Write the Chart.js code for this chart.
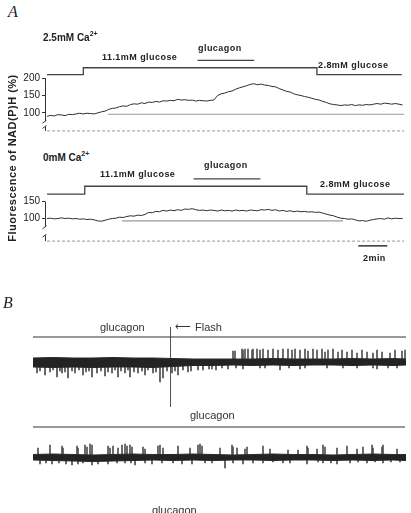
<!DOCTYPE html>
<html>
<head>
<meta charset="utf-8">
<script src="https://cdn.jsdelivr.net/npm/chart.js@4.4.1/dist/chart.umd.min.js"></script>
<style>
  body { margin: 0; width: 411px; height: 513px; overflow: hidden; background: #fff; position: relative; }
  .box { position: absolute; }
  .lab { position: absolute; line-height: 1; white-space: nowrap; color: #222; font-family: 'Liberation Sans', Arial, sans-serif; z-index: 2; }
  .panel { font-family: 'Liberation Serif', 'DejaVu Serif', serif; font-style: italic; font-size: 16px; }
  .ca { font-size: 10px; font-weight: bold; }
  .ca sup { font-size: 7px; position: relative; top: -1px; }
  .cond { font-size: 9px; font-weight: bold; letter-spacing: 0.45px; }
  .plain { font-size: 11px; color: #333; }
  .arrow { font-family: 'DejaVu Sans', sans-serif; font-size: 11px; color: #333; }
  .ytitle { font-size: 11px; font-weight: bold; letter-spacing: 0.5px; transform: translate(-50%, -50%) rotate(-90deg); }
</style>
</head>
<body>
<div class="lab panel" style="left:8px;top:4px">A</div>
<div class="lab ca" style="left:43px;top:31px">2.5mM Ca<sup>2+</sup></div>
<div class="lab cond" style="left:198px;top:44px">glucagon</div>
<div class="lab cond" style="left:102px;top:53px">11.1mM glucose</div>
<div class="lab cond" style="left:318px;top:61px">2.8mM glucose</div>

<div class="lab ca" style="left:43px;top:151px">0mM Ca<sup>2+</sup></div>
<div class="lab cond" style="left:204px;top:161px">glucagon</div>
<div class="lab cond" style="left:100px;top:170px">11.1mM glucose</div>
<div class="lab cond" style="left:320px;top:180px">2.8mM glucose</div>
<div class="lab cond" style="left:363px;top:254px">2min</div>

<div class="lab ytitle" style="left:11.5px;top:158px">Fluorescence of NAD(P)H (%)</div>

<div class="lab panel" style="left:3px;top:295px">B</div>
<div class="lab plain" style="left:100px;top:322px">glucagon</div>
<div class="lab arrow" style="left:175px;top:321px">&#10229;</div>
<div class="lab plain" style="left:195px;top:322px">Flash</div>
<div class="lab plain" style="left:190px;top:410px">glucagon</div>
<div class="lab plain" style="left:152px;top:505px">glucagon</div>

<div class="box" style="left:0;top:45px;width:411px;height:97px"><canvas id="a1"></canvas></div>
<div class="box" style="left:0;top:165px;width:411px;height:93px"><canvas id="a2"></canvas></div>
<div class="box" style="left:0;top:318px;width:411px;height:94px"><canvas id="b1"></canvas></div>
<div class="box" style="left:0;top:420px;width:411px;height:58px"><canvas id="b2"></canvas></div>

<script>
// ---- panel A: NAD(P)H fluorescence (%), one sample every 0.25 min ----
const sampleStepMin = 0.25;
const fluoCa25 = [
  90, 93, 91, 95, 94, 92, 96, 95, 97, 99,
  97, 99, 98, 97, 100, 103, 105, 110, 113, 114,
  118, 120, 119, 124, 126, 125, 129, 127, 131, 130,
  133, 131, 135, 134, 136, 135, 139, 137, 138, 136,
  137, 134, 136, 135, 134, 136, 137, 150, 155, 157,
  161, 163, 168, 172, 175, 178, 182, 184, 181, 183,
  180, 179, 176, 175, 170, 166, 162, 160, 155, 152,
  150, 147, 145, 142, 139, 137, 133, 130, 126, 124,
  123, 121, 123, 122, 124, 121, 123, 122, 124, 123,
  125, 127, 125, 128, 127, 125, 127, 125, 123
];
const fluoCa0 = [
  100, 101, 99, 100, 102, 100, 101, 99, 100, 98,
  99, 97, 98, 96, 93, 92, 95, 98, 100, 101,
  104, 103, 106, 108, 107, 110, 109, 112, 118, 117,
  121, 120, 124, 122, 125, 123, 126, 124, 128, 127,
  129, 126, 124, 125, 123, 125, 124, 122, 125, 123,
  124, 122, 125, 123, 124, 122, 125, 124, 123, 126,
  125, 127, 124, 126, 122, 124, 121, 123, 120, 122,
  120, 121, 119, 120, 118, 119, 116, 113, 110, 108,
  104, 101, 100, 98, 99, 96, 93, 94, 92, 95,
  97, 99, 100, 98, 102, 99, 101, 100, 100
];
// perfusion protocol: time of change (min) and glucose (mM) from then on
const glucoseT25 = [0, 2.5, 18.6, 24.45];
const glucoseMM25 = [2.8, 11.1, 2.8, 2.8];
const glucoseT0 = [0, 2.6, 17.9, 24.6];
const glucoseMM0 = [2.8, 11.1, 2.8, 2.8];
const glucagonT25 = [10.37, 14.28];
const glucagonT0 = [10.1, 14.7];
const refT25 = [4.2, 24.6], refLevel25 = 96;
const refT0 = [5.17, 20.4], refLevel0 = 93;
const fluoTicks25 = [100, 150, 200];
const fluoTicks0 = [100, 150];
const scaleBarT = [21.45, 23.45];

// ---- panel B: membrane current traces (arbitrary units) ----
const bandT = [0, 20, 40, 60, 80, 100, 120, 140, 160, 180, 200, 220, 240, 260, 280, 300, 320, 340, 360, 373];
const band1Top = [4, 4.5, 4, 4, 4.5, 4, 4, 3.5, 3, 3, 3, 3, 3.5, 3, 3, 3, 3.5, 3, 3.5, 3];
const band1Bot = [-5, -5.5, -5, -5.5, -5, -5, -5.5, -4.5, -3.5, -3.5, -3, -3.5, -3, -3.5, -3, -3, -3.5, -3, -3.5, -3];
const up1T = [200, 202, 209, 210, 212, 215, 219, 220, 224, 227, 230, 235, 240, 245, 250, 255, 259, 262, 267, 272, 275, 280, 284, 289, 292, 295, 300, 305, 309, 314, 319, 324, 329, 334, 340, 344, 349, 357, 362, 369, 372];
const up1H = [11, 11, 13, 12, 13, 13, 12, 13, 13, 12, 13, 12, 13, 12, 13, 13, 12, 13, 12, 13, 11, 13, 12, 13, 10, 12, 13, 10, 12, 10, 12, 9, 12, 10, 9, 12, 10, 9, 12, 11, 12];
const dip1T = [4, 7, 12, 17, 20, 24, 27, 29, 32, 35, 39, 42, 46, 50, 53, 56, 59, 64, 68, 72, 75, 79, 82, 85, 88, 92, 95, 97, 101, 105, 109, 112, 115, 120, 123, 127, 130, 134, 139, 142, 145, 150, 155, 158, 165, 170, 176, 179, 183, 189, 195, 203, 210, 227, 232, 247, 256, 267, 272, 294, 310, 324, 340, 344, 355, 364];
const dip1D = [-11, -9, -13, -10, -8, -15, -9, -11, -10, -16, -9, -11, -8, -13, -10, -9, -15, -11, -9, -14, -10, -11, -8, -15, -9, -11, -8, -15, -10, -11, -9, -13, -8, -11, -10, -20, -16, -9, -11, -9, -13, -8, -10, -9, -8, -8, -7, -7, -8, -6, -7, -6, -7, -6, -6, -8, -6, -7, -6, -6, -6, -6, -6, -7, -6, -6];
const flashT = 137.5;

const band2Top = [2.5, 3, 2.5, 2, 2.5, 3, 2.5, 2.5, 3, 2.5, 2, 2.5, 3, 2.5, 2.5, 2, 2.5, 3, 2.5, 2.5];
const band2Bot = [-3, -3.5, -4, -4.5, -4, -3.5, -3, -3.5, -3, -3.5, -3, -3, -3.5, -3, -3, -3.5, -3, -3.5, -3, -3.5];
const up2T = [5, 17, 29, 30, 44, 45, 52, 54, 57, 59, 75, 77, 80, 85, 89, 92, 94, 97, 99, 110, 112, 125, 127, 130, 145, 157, 165, 167, 169, 187, 199, 200, 204, 212, 214, 230, 237, 255, 265, 274, 275, 284, 290, 292, 304, 314, 324, 330, 339, 340, 349, 350, 364];
const up2H = [9, 12, 11, 9, 11, 9, 12, 10, 13, 12, 11, 9, 11, 9, 12, 13, 11, 12, 10, 10, 8, 11, 12, 9, 11, 9, 12, 13, 11, 9, 12, 10, 9, 8, 10, 11, 8, 7, 7, 11, 9, 8, 12, 10, 9, 11, 8, 10, 12, 9, 10, 12, 8];
const dip2T = [7, 13, 19, 26, 33, 39, 45, 50, 59, 65, 75, 84, 92, 98, 102, 112, 119, 129, 140, 149, 159, 172, 179, 192, 200, 210, 220, 230, 240, 250, 257, 274, 285, 290, 298, 304, 317, 325, 334, 342, 350, 358, 367];
const dip2D = [-7, -6, -7, -6, -7, -8, -7, -6, -8, -7, -7, -6, -6, -6, -8, -6, -7, -6, -6, -7, -7, -6, -6, -11, -6, -7, -6, -6, -5, -6, -6, -7, -5, -6, -6, -7, -6, -5, -6, -5, -6, -5, -5];

Chart.defaults.font.family = "'Liberation Sans', Arial, sans-serif";
Chart.defaults.animation = false;
Chart.defaults.plugins.legend.display = false;
Chart.defaults.plugins.tooltip.enabled = false;
Chart.defaults.elements.point.radius = 0;
Chart.defaults.elements.line.tension = 0;

// y axis drawn in two pieces with a break, like the original figure
const brokenAxis = {
  id: 'brokenAxis',
  afterDraw(chart, args, o) {
    const ctx = chart.ctx, y = chart.scales.y, x = chart.chartArea.left + 0.5;
    const p = v => y.getPixelForValue(v);
    ctx.save();
    ctx.strokeStyle = '#333';
    ctx.lineWidth = 1;
    ctx.beginPath();
    ctx.moveTo(x, p(o.top)); ctx.lineTo(x, p(o.breakHi));
    ctx.moveTo(x - 3, p(o.breakHi) + 2); ctx.lineTo(x + 1, p(o.breakHi) - 1);
    ctx.moveTo(x - 3, p(o.breakLo) + 2); ctx.lineTo(x + 1, p(o.breakLo) - 1);
    ctx.moveTo(x, p(o.breakLo)); ctx.lineTo(x, p(o.zero));
    ctx.stroke();
    ctx.restore();
  }
};

function fluoChart(id, c) {
  const line = (pts, color, width, extra) => Object.assign({ data: pts, borderColor: color, borderWidth: width }, extra);
  const ds = [
    line(c.values.map((v, i) => ({ x: i * sampleStepMin, y: v })), '#2e2e2e', 1),
    line(c.stepT.map((t, i) => ({ x: t, y: c.stepMM[i] > 5 ? c.hi : c.lo })), '#444', 1.3, { stepped: true }),
    line(c.glucagonT.map(t => ({ x: t, y: c.glucagonY })), '#444', 1.3),
    line(c.refT.map(t => ({ x: t, y: c.refLevel })), '#9a9a9a', 1.2),
    line([{ x: 0, y: c.zero }, { x: 24.6, y: c.zero }], '#9a9a9a', 1, { borderDash: [3, 2] })
  ];
  if (c.barT) ds.push(line(c.barT.map(t => ({ x: t, y: c.barY })), '#333', 1.5));
  new Chart(document.getElementById(id), {
    type: 'line',
    data: { datasets: ds },
    options: {
      responsive: true,
      maintainAspectRatio: false,
      layout: { padding: { left: 0, right: 7, top: 0, bottom: 0 } },
      scales: {
        x: { type: 'linear', display: false, min: -0.14, max: 24.6 },
        y: {
          type: 'linear', min: c.min, max: c.max,
          afterBuildTicks: s => { s.ticks = c.ticks.map(v => ({ value: v })); },
          afterFit: s => { s.width = 45; },
          grid: { drawOnChartArea: false, drawTicks: true, tickLength: 3, color: '#333' },
          border: { display: false },
          ticks: { padding: 2, color: '#222', font: { size: 10 } }
        }
      },
      plugins: { brokenAxis: c.axis }
    },
    plugins: [brokenAxis]
  });
}

fluoChart('a1', {
  values: fluoCa25, stepT: glucoseT25, stepMM: glucoseMM25, glucagonT: glucagonT25,
  refT: refT25, refLevel: refLevel25, ticks: fluoTicks25,
  hi: 230, lo: 210, glucagonY: 251, zero: 48, min: 39.2, max: 272.4,
  axis: { top: 200, breakHi: 76, breakLo: 61, zero: 48 }
});
fluoChart('a2', {
  values: fluoCa0, stepT: glucoseT0, stepMM: glucoseMM0, glucagonT: glucagonT0,
  refT: refT0, refLevel: refLevel0, ticks: fluoTicks0,
  hi: 195, lo: 172, glucagonY: 217, zero: 33.4, min: 7.3, max: 234.1,
  barT: scaleBarT, barY: 19.5,
  axis: { top: 150, breakHi: 75.6, breakLo: 51, zero: 33.4 }
});

function currentChart(id, c) {
  const band = arr => bandT.map((t, i) => ({ x: t, y: arr[i] }));
  const ds = [
    { type: 'line', data: band(c.top), fill: '+1', backgroundColor: '#232323', borderColor: '#2a2a2a', borderWidth: 1 },
    { type: 'line', data: band(c.bot), fill: false, borderColor: '#2a2a2a', borderWidth: 1 },
    { type: 'bar', data: c.upT.map((t, i) => ({ x: t, y: [1.5, c.upH[i]] })), backgroundColor: '#505050', barThickness: 1, grouped: false },
    { type: 'bar', data: c.dipT.map((t, i) => ({ x: t, y: [c.dipD[i], -2] })), backgroundColor: '#4a4a4a', barThickness: 1, grouped: false },
    { type: 'line', data: [{ x: c.lineX[0], y: c.lineY }, { x: c.lineX[1], y: c.lineY }], borderColor: '#333', borderWidth: 1.2 }
  ];
  if (c.flash !== undefined) {
    ds.push({ type: 'line', data: [{ x: c.flash, y: 35 }, { x: c.flash, y: -45 }], borderColor: '#555', borderWidth: 1 });
  }
  new Chart(document.getElementById(id), {
    type: 'bar',
    data: { datasets: ds },
    options: {
      responsive: true,
      maintainAspectRatio: false,
      layout: { padding: { left: 33, right: 5, top: 0, bottom: 0 } },
      scales: {
        x: { type: 'linear', display: false, offset: false, min: 0, max: 373 },
        y: { display: false, min: c.min, max: c.max }
      }
    }
  });
}

currentChart('b1', {
  top: band1Top, bot: band1Bot, upT: up1T, upH: up1H, dipT: dip1T, dipD: dip1D,
  lineX: [0, 373], lineY: 25, flash: flashT, min: -50, max: 44
});
currentChart('b2', {
  top: band2Top, bot: band2Bot, upT: up2T, upH: up2H, dipT: dip2T, dipD: dip2D,
  lineX: [-1, 372], lineY: 30, min: -21, max: 37
});
</script>
</body>
</html>
